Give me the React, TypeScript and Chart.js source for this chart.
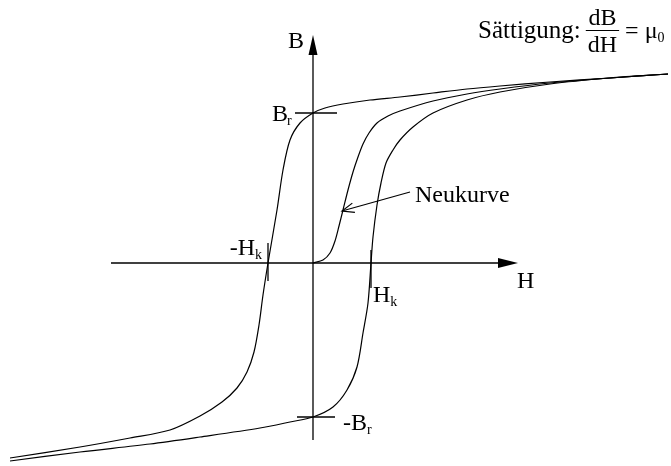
import React, { useEffect, useRef } from "react";
import { Chart, registerables } from "chart.js";

Chart.register(...registerables);

// Field strength H and flux density B, arbitrary units.
// Descending branch: from positive saturation down to negative saturation.
const descH = [35.5, 29.7, 23.7, 18.7, 15.4, 12.0, 8.7, 5.7, 3.0, 1.2, 0, -1.3, -2.3, -3.0, -3.6, -4.5, -5.0, -5.4, -5.9, -6.6, -7.6, -9.1, -11.3, -14.3, -18.3, -23.3, -30.3];
const descB = [18.9, 18.5, 18.1, 17.7, 17.4, 17.0, 16.6, 16.3, 15.9, 15.5, 15.0, 14.0, 12.3, 9.3, 5.3, 0, -3.2, -6.2, -8.9, -10.9, -12.5, -13.9, -15.3, -16.7, -17.5, -18.4, -19.5];

// Ascending branch: from negative saturation back up to positive saturation.
const ascH = [-30.3, -23.3, -16.3, -11.3, -5.3, -2.3, 0, 2.0, 3.4, 4.4, 5.0, 5.5, 5.8, 6.0, 6.4, 6.8, 7.3, 8.0, 8.7, 10.0, 12.0, 15.4, 18.7, 23.7, 29.7, 35.5];
const ascB = [-19.8, -18.9, -18.1, -17.4, -16.5, -15.9, -15.4, -14.4, -12.7, -10.4, -7.0, -4.0, 0, 2.6, 5.8, 8.0, 10.0, 11.3, 12.3, 13.6, 15.0, 16.3, 17.1, 17.9, 18.5, 18.9];

// Initial magnetisation curve (Neukurve), starting at the origin.
const neuH = [0, 1.0, 1.7, 2.2, 2.6, 3.0, 3.5, 4.0, 4.5, 5.0, 5.6, 6.4, 7.5, 8.7, 12.0, 15.4, 18.7, 23.7, 29.7, 35.5];
const neuB = [0, 0.3, 1.0, 2.2, 3.7, 5.3, 7.3, 9.1, 10.6, 11.9, 13.0, 14.0, 14.7, 15.2, 16.2, 16.9, 17.4, 18.0, 18.5, 18.9];

// Characteristic points of the loop
const BR = 15.0; // remanence
const BR_NEG = -15.4;
const HK = 5.8; // coercive field
const HK_NEG = -4.5;

// Axis extents
const H_AXIS = [-20.2, 20.5];
const B_AXIS = [-17.7, 22.8];
const X_RANGE = [-31.3, 35.8];
const Y_RANGE = [-20.3, 26.3];

// Index of the Neukurve point the label arrow points to
const NEU_ARROW_IDX = 5;

const pts = (hs: number[], bs: number[]) => hs.map((h, i) => ({ x: h, y: bs[i] }));

const SERIF = '"Liberation Serif", "Times New Roman", serif';

const overlay = {
  id: "hysteresisOverlay",
  afterDatasetsDraw(chart: any) {
    const { ctx } = chart;
    const xs = chart.scales.x;
    const ys = chart.scales.y;
    const px = (v: number) => xs.getPixelForValue(v);
    const py = (v: number) => ys.getPixelForValue(v);
    const ox = px(0);
    const oy = py(0);

    const seg = (x1: number, y1: number, x2: number, y2: number, w: number) => {
      ctx.lineWidth = w;
      ctx.beginPath();
      ctx.moveTo(x1, y1);
      ctx.lineTo(x2, y2);
      ctx.stroke();
    };
    const text = (s: string, x: number, y: number, size: number, align: CanvasTextAlign = "left") => {
      ctx.font = `${size}px ${SERIF}`;
      ctx.textAlign = align;
      ctx.textBaseline = "alphabetic";
      ctx.fillText(s, x, y);
      return ctx.measureText(s).width;
    };

    ctx.save();
    ctx.strokeStyle = "#000";
    ctx.fillStyle = "#000";
    ctx.lineCap = "butt";

    // H axis with arrow
    const hTip = px(H_AXIS[1]);
    seg(px(H_AXIS[0]), oy, hTip - 18, oy, 1.5);
    ctx.beginPath();
    ctx.moveTo(hTip, oy);
    ctx.lineTo(hTip - 20, oy - 5);
    ctx.lineTo(hTip - 20, oy + 5);
    ctx.closePath();
    ctx.fill();

    // B axis with arrow
    const bTip = py(B_AXIS[1]);
    seg(ox, py(B_AXIS[0]), ox, bTip + 18, 1.3);
    ctx.beginPath();
    ctx.moveTo(ox, bTip);
    ctx.lineTo(ox - 4.5, bTip + 20);
    ctx.lineTo(ox + 4.5, bTip + 20);
    ctx.closePath();
    ctx.fill();

    // Remanence and coercive field ticks
    seg(px(-1.8), py(BR), px(2.4), py(BR), 1.3);
    seg(px(-1.6), py(BR_NEG), px(2.2), py(BR_NEG), 1.3);
    seg(px(HK_NEG), py(2.0), px(HK_NEG), py(-1.8), 1.3);
    seg(px(HK), py(1.3), px(HK), py(-2.5), 1.3);

    // Axis labels
    text("B", ox - 9, bTip + 13, 24, "right");
    text("H", hTip - 1, oy + 25, 24);

    // B_r
    const brL = px(-1.8);
    text("B", brL - 7, py(BR) + 8, 24, "right");
    text("r", brL - 8, py(BR) + 12, 14);

    // -B_r
    const nbrX = px(2.2) + 8;
    const wNbr = text("-B", nbrX, py(BR_NEG) + 13, 24);
    text("r", nbrX + wNbr, py(BR_NEG) + 17, 14);

    // -H_k
    const nhkR = px(HK_NEG) - 13;
    text("-H", nhkR, oy - 8, 24, "right");
    text("k", nhkR, oy - 4, 14);

    // H_k
    const hkX = px(HK) + 2;
    const wHk = text("H", hkX, oy + 39, 24);
    text("k", hkX + wHk, oy + 43, 14);

    // Neukurve label with arrow
    const lx = 415;
    const lb = 202;
    text("Neukurve", lx, lb, 24);
    const tx = px(neuH[NEU_ARROW_IDX]) - 1;
    const ty = py(neuB[NEU_ARROW_IDX]) + 1;
    const sx = lx - 5;
    const sy = lb - 10;
    seg(sx, sy, tx, ty, 1.2);
    const ang = Math.atan2(ty - sy, tx - sx);
    const hl = 13;
    const spread = 0.38;
    ctx.lineWidth = 1.2;
    ctx.beginPath();
    ctx.moveTo(tx - hl * Math.cos(ang - spread), ty - hl * Math.sin(ang - spread));
    ctx.lineTo(tx, ty);
    ctx.lineTo(tx - hl * Math.cos(ang + spread), ty - hl * Math.sin(ang + spread));
    ctx.stroke();

    // Saturation note: dB/dH = mu_0
    const wS = text("Sättigung:", 478, 38, 25);
    const fL = 478 + wS + 5;
    ctx.font = `24px ${SERIF}`;
    const wFrac = Math.max(ctx.measureText("dB").width, ctx.measureText("dH").width) + 4;
    const fx = fL + wFrac / 2;
    text("dB", fx, 25, 24, "center");
    seg(fL, 30.5, fL + wFrac, 30.5, 1.2);
    text("dH", fx, 52, 24, "center");
    const eqX = fL + wFrac + 6;
    const wEq = text("=", eqX, 38, 24);
    const wMu = text("\u03bc", eqX + wEq + 6, 38, 24);
    text("0", eqX + wEq + 6 + wMu, 42, 14);

    ctx.restore();
  },
};

export default function App() {
  const canvasRef = useRef<HTMLCanvasElement | null>(null);

  useEffect(() => {
    if (!canvasRef.current) return;
    const lineStyle = {
      showLine: true,
      borderColor: "#000",
      backgroundColor: "#000",
      borderWidth: 1.2,
      pointRadius: 0,
      tension: 0.3,
      fill: false,
    };
    const chart = new Chart(canvasRef.current, {
      type: "scatter",
      data: {
        datasets: [
          { label: "absteigender Ast", data: pts(descH, descB), ...lineStyle },
          { label: "aufsteigender Ast", data: pts(ascH, ascB), ...lineStyle },
          { label: "Neukurve", data: pts(neuH, neuB), ...lineStyle },
        ],
      },
      options: {
        responsive: false,
        maintainAspectRatio: false,
        animation: false,
        layout: { padding: 0 },
        plugins: {
          legend: { display: false },
          tooltip: { enabled: false },
        },
        scales: {
          x: { type: "linear", min: X_RANGE[0], max: X_RANGE[1], display: false },
          y: { type: "linear", min: Y_RANGE[0], max: Y_RANGE[1], display: false },
        },
      },
      plugins: [overlay],
    });
    return () => chart.destroy();
  }, []);

  return (
    <div style={{ position: "fixed", left: 0, top: 0, width: 671, height: 466, background: "#fff" }}>
      <canvas ref={canvasRef} width={671} height={466} style={{ display: "block" }} />
    </div>
  );
}
